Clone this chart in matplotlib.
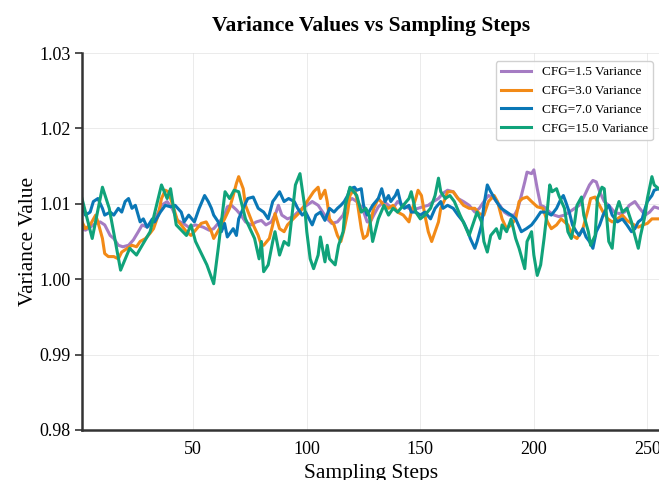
import matplotlib
matplotlib.use("Agg")
import matplotlib.pyplot as plt

plt.rcParams['font.family'] = ['Liberation Serif', 'DejaVu Serif']

# ---- data ----
steps_cfg15 = [1, 5.5, 10, 13, 18, 22, 25, 31, 36, 38.5, 40, 42.5, 47, 49, 51, 56, 59, 61, 64, 66, 68, 70,
               73, 77, 79, 80, 81, 83, 85, 86, 88, 90, 92, 94, 95, 97, 99, 100, 101.5, 103, 105, 106, 108,
               109, 110, 112.5, 114, 116, 117, 119, 122, 124, 126, 127.5, 129, 131.5, 134, 136, 138, 140,
               142.5, 145, 146, 148, 150, 152, 154.5, 156.5, 158, 159, 161, 163, 165, 167.5, 169.5, 171.5,
               174, 175, 177, 178, 179.5, 181, 183.5, 185, 186, 188, 190, 192, 193.5, 196, 197, 199, 200,
               201.5, 203, 204.5, 206, 207, 208, 210, 211, 213.5, 215, 216.5, 218, 219, 221, 222, 224, 225,
               227, 228, 230, 231, 233, 234.5, 236, 237.5, 239, 241, 243, 244, 246, 247, 249, 250, 252, 253,
               255, 256]
var_cfg15 = [1.0107, 1.0054, 1.0122, 1.0094, 1.0012, 1.0041, 1.0032, 1.0063, 1.0125, 1.0107, 1.0120,
             1.0072, 1.0058, 1.0072, 1.0050, 1.0019, 0.9994, 1.0041, 1.0116, 1.0107, 1.0118, 1.0116,
             1.0080, 1.0054, 1.0027, 1.0050, 1.0010, 1.0019, 1.0050, 1.0063, 1.0032, 1.0050, 1.0045,
             1.0098, 1.0125, 1.0140, 1.0098, 1.0063, 1.0027, 1.0014, 1.0032, 1.0056, 1.0023, 1.0045,
             1.0027, 1.0019, 1.0045, 1.0063, 1.0098, 1.0122, 1.0111, 1.0089, 1.0094, 1.0085, 1.0050,
             1.0080, 1.0098, 1.0085, 1.0094, 1.0089, 1.0098, 1.0107, 1.0116, 1.0089, 1.0080, 1.0085,
             1.0094, 1.0111, 1.0134, 1.0116, 1.0107, 1.0111, 1.0103, 1.0085, 1.0072, 1.0058, 1.0080,
             1.0089, 1.0076, 1.0050, 1.0036, 1.0058, 1.0067, 1.0054, 1.0072, 1.0063, 1.0080, 1.0054,
             1.0041, 1.0014, 1.0050, 1.0063, 1.0032, 1.0005, 1.0019, 1.0054, 1.0094, 1.0125, 1.0116,
             1.0120, 1.0111, 1.0094, 1.0063, 1.0054, 1.0076, 1.0098, 1.0109, 1.0085, 1.0063, 1.0045,
             1.0058, 1.0107, 1.0122, 1.0120, 1.0050, 1.0041, 1.0089, 1.0103, 1.0089, 1.0094, 1.0076,
             1.0063, 1.0041, 1.0058, 1.0085, 1.0107, 1.0136, 1.0125, 1.0120, 1.0118]

steps_cfg7 = [1, 2.5, 4.6, 6, 8, 10, 11, 13.4, 15, 17, 18.5, 20, 21.5, 23, 24.5, 26.6, 28, 29.7, 32, 33,
              35.5, 37.7, 40, 42, 44.7, 46, 48, 50.5, 52.6, 55, 56.6, 58, 59, 61, 62.4, 63.8, 65, 67.6, 69,
              70, 72, 74, 76.4, 78.6, 81, 83, 85, 86, 88, 90, 92, 94.5, 96, 98, 99.5, 101, 102.4, 104, 106,
              108, 110, 112, 113.5, 115, 116.5, 118, 119, 121, 122, 124, 125, 126.6, 129, 131.5, 133,
              134.5, 136, 137, 139, 140, 141.6, 143, 145, 146, 148, 150, 152, 154.5, 156.5, 159, 160, 162,
              164.5, 166.6, 169, 171, 172, 174, 175, 177, 178, 179.5, 181, 183.5, 185.6, 188, 190, 192,
              194.5, 196.7, 199, 201, 203, 205.5, 207.7, 210, 212, 213, 214, 215.6, 217, 218.7, 220, 221.6,
              223, 224.5, 226, 227.5, 229, 230.5, 232, 233, 234.5, 236.8, 239, 241, 243, 244.5, 246, 247.7,
              249, 250, 252, 253, 255, 256]
var_cfg7 = [1.0103, 1.0085, 1.0089, 1.0103, 1.0107, 1.0094, 1.0085, 1.0089, 1.0085, 1.0094, 1.0089,
            1.0103, 1.0107, 1.0094, 1.0098, 1.0076, 1.0080, 1.0069, 1.0080, 1.0076, 1.0089, 1.0098,
            1.0096, 1.0098, 1.0089, 1.0076, 1.0085, 1.0076, 1.0094, 1.0111, 1.0103, 1.0094, 1.0085,
            1.0076, 1.0063, 1.0074, 1.0056, 1.0067, 1.0058, 1.0080, 1.0094, 1.0107, 1.0109, 1.0094,
            1.0089, 1.0080, 1.0103, 1.0107, 1.0116, 1.0103, 1.0107, 1.0103, 1.0094, 1.0085, 1.0089,
            1.0080, 1.0072, 1.0085, 1.0089, 1.0078, 1.0094, 1.0089, 1.0094, 1.0098, 1.0103, 1.0111,
            1.0120, 1.0122, 1.0118, 1.0120, 1.0098, 1.0085, 1.0098, 1.0107, 1.0120, 1.0103, 1.0111,
            1.0103, 1.0111, 1.0118, 1.0098, 1.0094, 1.0098, 1.0089, 1.0089, 1.0085, 1.0089, 1.0080,
            1.0094, 1.0103, 1.0094, 1.0098, 1.0094, 1.0085, 1.0076, 1.0063, 1.0054, 1.0041, 1.0050,
            1.0072, 1.0098, 1.0125, 1.0116, 1.0103, 1.0094, 1.0089, 1.0085, 1.0080, 1.0063, 1.0067,
            1.0072, 1.0080, 1.0089, 1.0089, 1.0085, 1.0094, 1.0107, 1.0111, 1.0103, 1.0089, 1.0072,
            1.0063, 1.0058, 1.0067, 1.0056, 1.0050, 1.0041, 1.0063, 1.0072, 1.0085, 1.0094, 1.0098,
            1.0085, 1.0076, 1.0080, 1.0072, 1.0063, 1.0067, 1.0076, 1.0080, 1.0094, 1.0103, 1.0111,
            1.0118, 1.0120, 1.0120]

steps_cfg3 = [1, 2.5, 4.6, 7, 8, 10, 11, 12.6, 15, 17, 18.5, 21, 23, 25, 26.6, 29, 31, 32.5, 34.6, 36,
              37.7, 39, 41, 43, 44.7, 47, 49, 51, 53.5, 55.7, 58, 59, 61.5, 63.8, 66, 67.6, 69, 70, 72,
              73, 74.7, 76.4, 78.6, 80, 81, 83.5, 85, 86, 88, 90, 91.5, 94, 97, 99, 101, 103, 105, 106,
              108, 109, 110, 112, 113.5, 115, 116.5, 118, 119, 121, 122, 124, 125, 126.6, 128, 129.5,
              131.5, 134, 136, 138, 140, 142.5, 145, 146, 148, 149, 150.5, 152, 153.5, 155, 156.5, 158,
              159, 161, 162, 164.5, 166.6, 169, 171.5, 174, 176, 178, 180, 182.5, 184, 186, 188, 190, 192,
              193.5, 195, 197, 199, 201.5, 204, 206, 207.7, 210, 212, 215, 217, 219, 221.6, 224, 225, 227,
              228, 230.5, 232.6, 234.5, 236.8, 239, 241, 243, 246, 248, 250, 252, 255, 256]
var_cfg3 = [1.0076, 1.0067, 1.0072, 1.0085, 1.0076, 1.0054, 1.0034, 1.0030, 1.0030, 1.0027, 1.0036,
            1.0041, 1.0045, 1.0043, 1.0050, 1.0054, 1.0061, 1.0067, 1.0085, 1.0107, 1.0118, 1.0116,
            1.0098, 1.0078, 1.0072, 1.0063, 1.0058, 1.0065, 1.0074, 1.0076, 1.0063, 1.0054, 1.0067,
            1.0080, 1.0094, 1.0111, 1.0127, 1.0136, 1.0120, 1.0098, 1.0085, 1.0072, 1.0058, 1.0045,
            1.0045, 1.0054, 1.0072, 1.0087, 1.0067, 1.0063, 1.0072, 1.0080, 1.0089, 1.0098, 1.0107,
            1.0116, 1.0122, 1.0107, 1.0118, 1.0103, 1.0080, 1.0072, 1.0058, 1.0050, 1.0067, 1.0089,
            1.0111, 1.0120, 1.0107, 1.0067, 1.0054, 1.0058, 1.0076, 1.0094, 1.0107, 1.0098, 1.0094,
            1.0098, 1.0089, 1.0085, 1.0076, 1.0089, 1.0107, 1.0118, 1.0111, 1.0085, 1.0063, 1.0050,
            1.0063, 1.0076, 1.0094, 1.0107, 1.0116, 1.0116, 1.0107, 1.0098, 1.0094, 1.0094, 1.0087,
            1.0085, 1.0103, 1.0111, 1.0103, 1.0080, 1.0067, 1.0072, 1.0080, 1.0103, 1.0107, 1.0109,
            1.0103, 1.0096, 1.0094, 1.0076, 1.0067, 1.0072, 1.0080, 1.0072, 1.0058, 1.0054, 1.0067,
            1.0094, 1.0107, 1.0109, 1.0103, 1.0089, 1.0080, 1.0076, 1.0080, 1.0085, 1.0078, 1.0074,
            1.0069, 1.0072, 1.0074, 1.0080, 1.0080, 1.0080]

steps_cfg1_5 = [1, 2.5, 4.6, 7, 9, 11, 13.4, 15, 17, 19, 21.5, 23.6, 25.8, 27.5, 29.7, 32, 34, 36, 38.5,
                40.7, 43, 45.6, 48, 51, 54.4, 57, 59, 61.5, 63.8, 65, 66.8, 69, 71, 73, 75.5, 77.8, 80, 82,
                84.4, 86.5, 87.5, 89, 91.5, 94, 96, 98, 100, 102.4, 105, 107, 109, 111, 113.5, 116, 118,
                120, 122, 124.5, 126.6, 128, 129.5, 131.5, 134, 136, 138, 140, 142.5, 145, 147, 149, 151,
                153.5, 155.7, 158, 160, 162, 164.5, 166.6, 169, 171.5, 174, 176, 178, 180, 182.5, 185, 187,
                189, 191.5, 193, 194.5, 196, 197, 199, 200, 201.5, 203, 204.5, 207, 209, 211, 213.5, 215.6,
                218, 220, 222, 224.5, 226, 227.5, 229, 231, 233, 235.5, 237.5, 240, 242, 244.5, 246.6, 249,
                251, 253, 255, 256]
var_cfg1_5 = [1.0067, 1.0065, 1.0069, 1.0074, 1.0076, 1.0072, 1.0058, 1.0054, 1.0045, 1.0043, 1.0045,
              1.0052, 1.0063, 1.0072, 1.0069, 1.0074, 1.0085, 1.0098, 1.0103, 1.0094, 1.0078, 1.0074,
              1.0069, 1.0072, 1.0069, 1.0065, 1.0067, 1.0076, 1.0085, 1.0096, 1.0098, 1.0092, 1.0085,
              1.0076, 1.0072, 1.0076, 1.0078, 1.0072, 1.0076, 1.0089, 1.0098, 1.0085, 1.0080, 1.0083,
              1.0089, 1.0094, 1.0098, 1.0103, 1.0098, 1.0089, 1.0080, 1.0074, 1.0076, 1.0085, 1.0103,
              1.0107, 1.0103, 1.0094, 1.0076, 1.0076, 1.0085, 1.0096, 1.0103, 1.0098, 1.0094, 1.0103,
              1.0098, 1.0094, 1.0092, 1.0094, 1.0096, 1.0098, 1.0103, 1.0107, 1.0114, 1.0118, 1.0116,
              1.0107, 1.0103, 1.0098, 1.0089, 1.0094, 1.0103, 1.0111, 1.0107, 1.0098, 1.0089, 1.0085,
              1.0085, 1.0094, 1.0111, 1.0129, 1.0142, 1.0140, 1.0145, 1.0120, 1.0098, 1.0096, 1.0089,
              1.0085, 1.0083, 1.0085, 1.0089, 1.0094, 1.0098, 1.0109, 1.0125, 1.0131, 1.0129, 1.0116,
              1.0103, 1.0098, 1.0089, 1.0087, 1.0089, 1.0098, 1.0103, 1.0094, 1.0085, 1.0089, 1.0096,
              1.0094, 1.0094]

labels = ["CFG=1.5 Variance", "CFG=3.0 Variance", "CFG=7.0 Variance", "CFG=15.0 Variance"]
colors = ["#a57cc3", "#f28a17", "#0a77b6", "#10a37a"]

title = "Variance Values vs Sampling Steps"
xlabel = "Sampling Steps"
ylabel = "Variance Value"
xticks = [50, 100, 150, 200, 250]
yticks = [0.98, 0.99, 1.00, 1.01, 1.02, 1.03]

# ---- figure ----
fig = plt.figure(figsize=(6.59, 4.80), dpi=100)
ax = fig.add_axes([82 / 659, 50 / 480, 579 / 659, 377 / 480])

series = [(steps_cfg1_5, var_cfg1_5), (steps_cfg3, var_cfg3), (steps_cfg7, var_cfg7), (steps_cfg15, var_cfg15)]
for (sx, sy), lab, col in zip(series, labels, colors):
    ax.plot(sx, sy, color=col, lw=2.2, label=lab, solid_joinstyle='round')

ax.set_xlim(1, 256)
ax.set_ylim(0.98, 1.03)
ax.set_xticks(xticks)
ax.set_yticks(yticks)
ax.set_yticklabels([f"{v:.2f}" for v in yticks])

ax.grid(True, color='#dddddd', lw=0.7, alpha=0.6)
ax.set_axisbelow(True)
for s in ['top', 'right']:
    ax.spines[s].set_visible(False)
for s in ['left', 'bottom']:
    ax.spines[s].set_color('#333333')
    ax.spines[s].set_linewidth(1.8)

ax.tick_params(axis='y', labelsize=13, length=5, width=1.2, color='#333333', pad=3)
ax.tick_params(axis='x', labelsize=13, length=0, pad=8)

ax.set_title(title, fontsize=15.5, fontweight='bold', pad=16)
ax.set_xlabel(xlabel, fontsize=15.5, labelpad=4)
ax.set_ylabel(ylabel, fontsize=15.5, labelpad=1)

leg = ax.legend(loc='upper right', fontsize=9.5, handlelength=2.3, frameon=True,
                fancybox=True, framealpha=0.9, edgecolor='#cccccc', borderaxespad=0.6)

fig.savefig("out.png", dpi=100)
